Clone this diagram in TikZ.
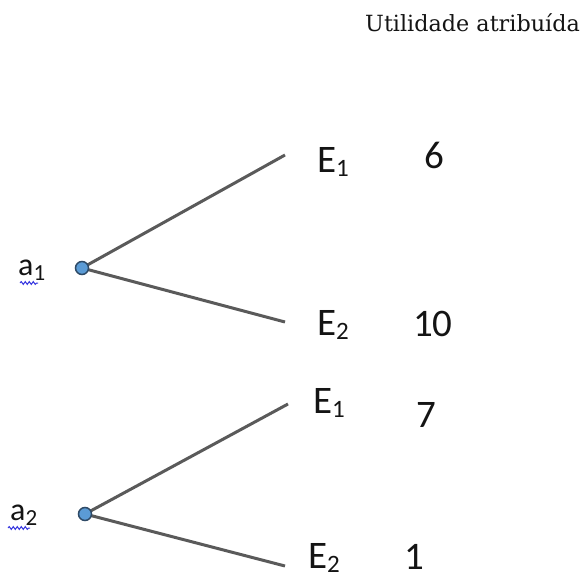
\documentclass[tikz,border=0pt]{standalone}
\usepackage{fontspec}
\setmainfont{Carlito}
\newfontfamily\titlefont{DejaVu Serif}
\usetikzlibrary{decorations.pathmorphing}
\definecolor{dotblue}{HTML}{5B9BD5}
\definecolor{dotedge}{HTML}{2E4A66}
\definecolor{linegray}{HTML}{5A5A5A}
\definecolor{txt}{HTML}{141414}
\definecolor{squig}{HTML}{3A3AE0}
\newcommand\evsub[1]{\raisebox{-4pt}{\fontsize{25}{25}\selectfont #1}}
\newcommand\acsub[1]{\raisebox{-5pt}{\fontsize{23}{23}\selectfont #1}}
\begin{document}
\begin{tikzpicture}[x=1pt,y=-1pt,
  evlbl/.style={anchor=base west, inner sep=0, text=txt, font=\fontsize{39}{40}\selectfont},
  aclbl/.style={anchor=base west, inner sep=0, text=txt, font=\fontsize{32}{34}\selectfont},
  dot/.style={circle, fill=dotblue, draw=dotedge, line width=1.5, minimum size=13, inner sep=0},
  branch/.style={draw=linegray, line width=3},
  spell/.style={draw=squig, line width=1, decorate, decoration={snake, segment length=4, amplitude=1.4}}]
\useasboundingbox (0,0) rectangle (584,578);

\node[anchor=base west, inner sep=0, text=txt, font=\titlefont\fontsize{22.3}{24}\selectfont] (title) at (365,32) {Utilidade atribuída};

\coordinate (e11) at (285,155);
\coordinate (e12) at (285,322);
\coordinate (e21) at (288,404);
\coordinate (e22) at (285,566);
\draw[branch] (82,268) -- (e11);
\draw[branch] (82,268) -- (e12);
\draw[branch] (85,514) -- (e21);
\draw[branch] (85,514) -- (e22);
\node[dot] (a1) at (82,268) {};
\node[dot] (a2) at (85,514) {};

\node[aclbl] (la1) at (18,275) {a\acsub{1}};
\node[aclbl] (la2) at (10,520) {a\acsub{2}};
\coordinate (s1a) at (20,283);
\coordinate (s1b) at (38,283);
\coordinate (s2a) at (8,528);
\coordinate (s2b) at (30,528);
\draw[spell] (s1a) -- (s1b);
\draw[spell] (s2a) -- (s2b);

\node[evlbl] (E11) at (317,172) {E\evsub{1}};
\node[evlbl] (E12) at (317,335) {E\evsub{2}};
\node[evlbl] (E21) at (313,413) {E\evsub{1}};
\node[evlbl] (E22) at (308,568) {E\evsub{2}};

\node[evlbl] (u11) at (424,168) {6};
\node[evlbl] (u12) at (413,336) {10};
\node[evlbl] (u21) at (416,427) {7};
\node[evlbl] (u22) at (404,569) {1};
\end{tikzpicture}
\end{document}
